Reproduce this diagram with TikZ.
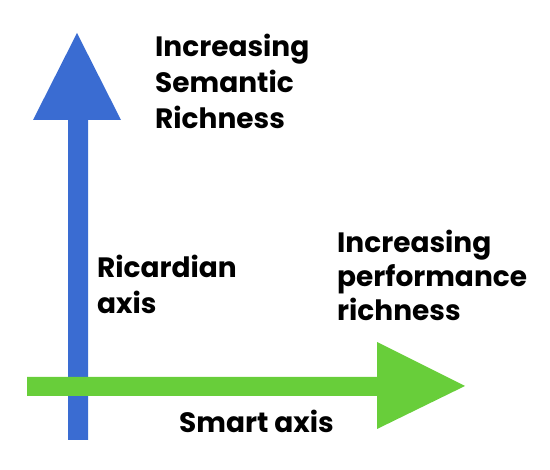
\documentclass[tikz,border=0pt]{standalone}
\usepackage{fontspec}
\setmainfont{Poppins}
\definecolor{axisblue}{RGB}{58,108,210}
\definecolor{axisgreen}{RGB}{104,206,58}
\begin{document}
\begin{tikzpicture}[x=1pt, y=-1pt,
    axistext/.style={font=\fontsize{28}{36}\selectfont\bfseries, align=left, anchor=north west, inner sep=0pt}]
    \useasboundingbox (0,0) rectangle (550,470);
    % Ricardian axis
    \fill[axisblue] (68,440) -- (68,120) -- (33,120) -- (77,33) -- (121,120) -- (88,120) -- (88,440) -- cycle;
    % Smart axis
    \fill[axisgreen] (27,377) -- (377,377) -- (377,342) -- (465,386) -- (377,429) -- (377,396) -- (27,396) -- cycle;
    \node[axistext] (semantic) at (155,34) {Increasing\\Semantic\\Richness};
    \node[axistext] (ricardian) at (97,255) {Ricardian\\axis};
    \node[axistext, font=\fontsize{28}{34}\selectfont\bfseries] (performance) at (337,230) {Increasing\\performance\\richness};
    \node[axistext] (smart) at (179,410) {Smart axis};
\end{tikzpicture}
\end{document}
